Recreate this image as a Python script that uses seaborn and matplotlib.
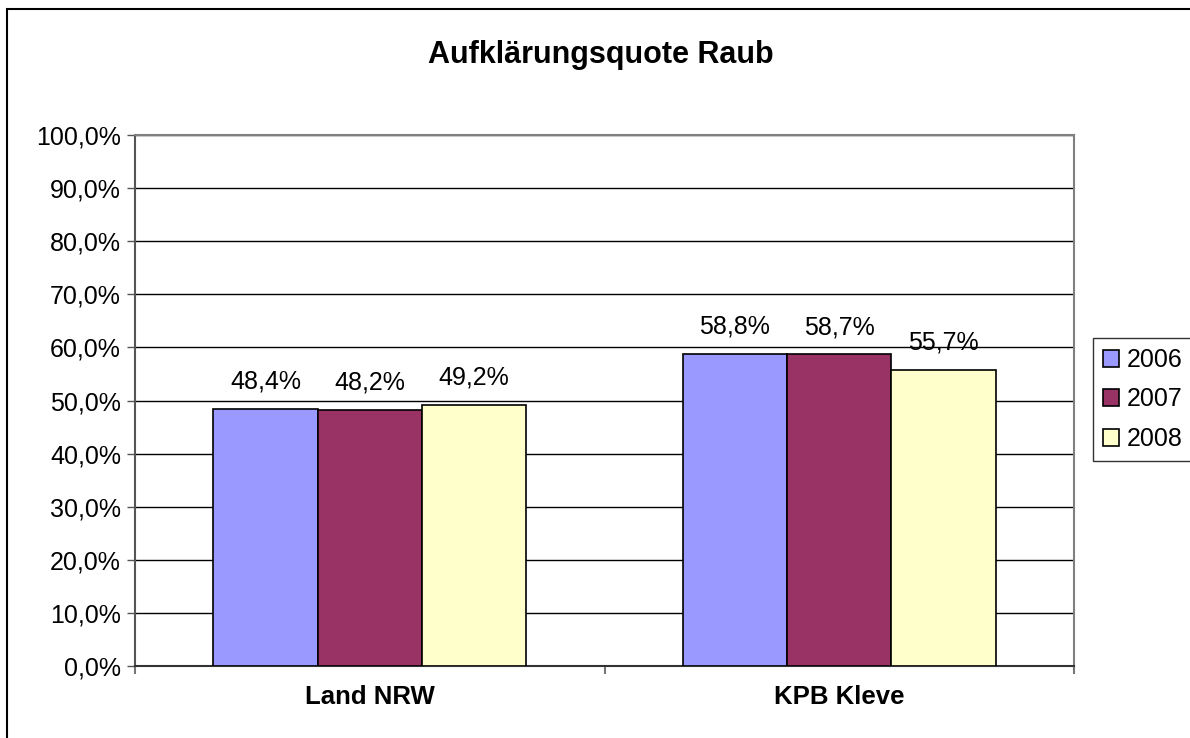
import pandas as pd
import seaborn as sns
import matplotlib.pyplot as plt
from matplotlib.patches import Rectangle
from matplotlib.ticker import FuncFormatter

# Values
regions = ["Land NRW", "KPB Kleve"]
years = ["2006", "2007", "2008"]
quote_2006 = [48.4, 58.8]
quote_2007 = [48.2, 58.7]
quote_2008 = [49.2, 55.7]
colors = ["#9999FF", "#993366", "#FFFFCC"]

rows = []
for year, vals in zip(years, [quote_2006, quote_2007, quote_2008]):
    for region, v in zip(regions, vals):
        rows.append({"Region": region, "Jahr": year, "Quote": v})
df = pd.DataFrame(rows)

sns.set_theme(style="white")
plt.rcParams["font.family"] = ["Liberation Sans", "DejaVu Sans"]
plt.rcParams["text.color"] = "black"
plt.rcParams["xtick.labelcolor"] = "black"
plt.rcParams["ytick.labelcolor"] = "black"

fs = 18

fig = plt.figure(figsize=(11.9, 7.38), dpi=100)
ax = fig.add_axes([135 / 1190, 72 / 738, 939 / 1190, 531 / 738])

sns.barplot(data=df, x="Region", y="Quote", hue="Jahr", hue_order=years,
            palette=colors, width=3 / 4.5, edgecolor="black", linewidth=1.2,
            saturation=1, errorbar=None, ax=ax, zorder=3)

# data labels
for cont in ax.containers:
    ax.bar_label(cont, labels=[f"{v:.1f}%".replace(".", ",") for v in cont.datavalues],
                 padding=11, fontsize=fs, color="black")

ax.set_ylim(0, 100)
ax.set_xlim(-0.5, 1.5)
ax.set_yticks(range(0, 101, 10))
ax.yaxis.set_major_formatter(FuncFormatter(lambda v, _: f"{v:.1f}%".replace(".", ",")))
ax.grid(axis="y", color="black", linewidth=1.0, zorder=0)
ax.set_axisbelow(True)

ax.set_xlabel("")
ax.set_ylabel("")
ax.tick_params(axis="y", which="major", direction="out", length=6, width=1,
               color="#555555", labelsize=fs, labelcolor="black", pad=4, left=True)
ax.tick_params(axis="x", which="major", length=0, labelsize=fs * 1.03,
               labelcolor="black", pad=14)
for lab in ax.get_xticklabels():
    lab.set_fontweight("bold")
ax.set_xticks([-0.5, 0.5, 1.5], minor=True)
ax.tick_params(axis="x", which="minor", direction="out", length=6, width=1.5,
               color="#777777", bottom=True)

for side in ["top", "right"]:
    ax.spines[side].set_visible(True)
    ax.spines[side].set_color("#808080")
    ax.spines[side].set_linewidth(1.5)
ax.spines["left"].set_color("#555555")
ax.spines["bottom"].set_color("#333333")
ax.spines["left"].set_linewidth(1.5)
ax.spines["bottom"].set_linewidth(1.5)

fig.suptitle("Aufklärungsquote Raub", x=601 / 1190, y=1 - 55 / 738, va="center",
             fontsize=22, fontweight="bold", color="black")

handles, labels = ax.get_legend_handles_labels()
ax.get_legend().remove()
leg = fig.legend(handles, labels, loc="upper left",
                 bbox_to_anchor=(1093 / 1190, 1 - 338 / 738), borderaxespad=0,
                 fontsize=fs, frameon=True, fancybox=False, edgecolor="black",
                 handlelength=0.65, handleheight=0.65, handletextpad=0.3,
                 labelspacing=0.62, borderpad=0.4)
leg.get_frame().set_linewidth(1.0)

# outer chart border (right and bottom edges fall outside the picture)
fig.patches.append(Rectangle((7 / 1190, -0.1), 1.2, 1.1 - 9 / 738,
                             transform=fig.transFigure, fill=False,
                             edgecolor="black", linewidth=1.5))

fig.savefig("out.png", dpi=100)
